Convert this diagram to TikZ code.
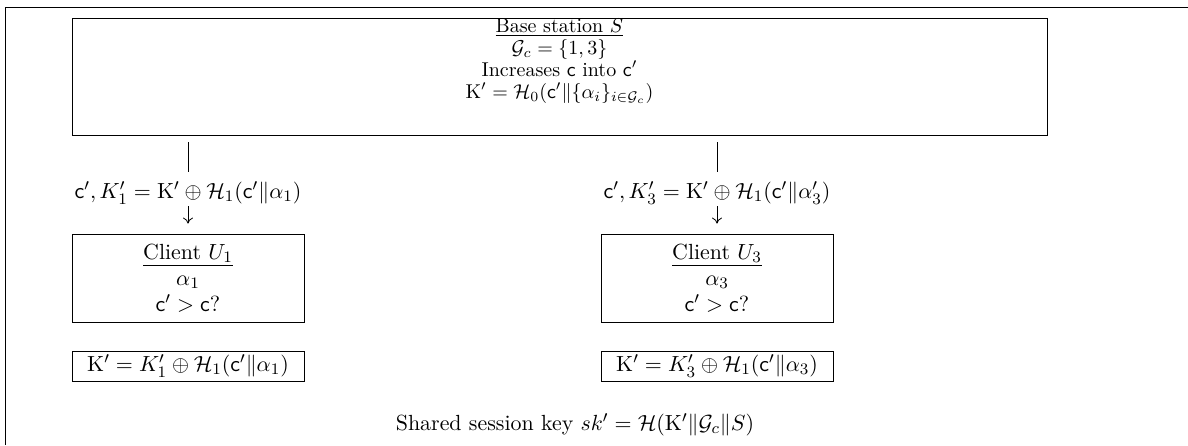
\documentclass[tikz,border=0pt]{standalone}
\usepackage{amsmath,amssymb,amsfonts}
\usepackage{tikz}
\usepackage{xcolor}
\usetikzlibrary{arrows.meta}

\tikzset{
  box/.style={draw, align=center, minimum width=116pt, minimum height=44pt, inner sep=0pt},
  keybox/.style={draw, minimum width=116pt, minimum height=15pt, inner sep=0pt},
  every node/.style={font=\fontsize{10.95}{13}\selectfont},
}

\begin{document}
\begin{tikzpicture}[x=0.5pt,y=-0.5pt,>={To[length=3pt,width=5pt]}]
			\useasboundingbox (0,0) rectangle (1188,445);
			\draw (5,445) -- (5,7) -- (1188,7);
			\node[draw, minimum width=487.5pt, minimum height=58.5pt] (base) at (559.5,76.5) {};
			\node[align=center, anchor=north, inner sep=0pt, font=\normalsize] (basetxt) at (559.5,18) {\underline{Base station $S$}\\[-1pt] $\mathcal{G}_c=\{1,3\}$\\[-1pt] Increases $\mathsf{c}$ into $\mathsf{c}'$\\[-1pt] $\mathrm{K}'=\mathcal{H}_0(\mathsf{c}'\|\{\alpha_i\}_{i\in\mathcal{G}_c})$};
			\node (lbl1) at (188,193) {$\mathsf{c}',K_1'=\mathrm{K}'\oplus\mathcal{H}_1(\mathsf{c}'\|\alpha_1)$};
			\node (lbl3) at (717,193) {$\mathsf{c}',K_3'=\mathrm{K}'\oplus\mathcal{H}_1(\mathsf{c}'\|\alpha_3')$};
			\node[box] (u1) at (188,278) {\underline{Client $U_1$}\\ $\alpha_1$\\ $\mathsf{c}'>\mathsf{c}?$};
			\node[box] (u3) at (717,278) {\underline{Client $U_3$}\\ $\alpha_3$\\ $\mathsf{c}'>\mathsf{c}?$};
			\node[keybox] (k1) at (188,366) {$\mathrm{K}'=K_1'\oplus\mathcal{H}_1(\mathsf{c}'\|\alpha_1)$};
			\node[keybox] (k3) at (717,366) {$\mathrm{K}'=K_3'\oplus\mathcal{H}_1(\mathsf{c}'\|\alpha_3)$};
			\node (sk) at (575,425) {Shared session key $sk'=\mathcal{H}(\mathrm{K}'\|\mathcal{G}_c\|S)$};
			\draw[shorten <=3.5pt, shorten >=1.5pt] (base.south -| lbl1) -- (lbl1.north);
			\draw[shorten <=3.5pt, shorten >=1.5pt] (base.south -| lbl3) -- (lbl3.north);
			\draw[->, shorten <=-2.5pt, shorten >=5pt] (lbl1) -- (u1);
			\draw[->, shorten <=-2.5pt, shorten >=5pt] (lbl3) -- (u3);
		\end{tikzpicture}
\end{document}
